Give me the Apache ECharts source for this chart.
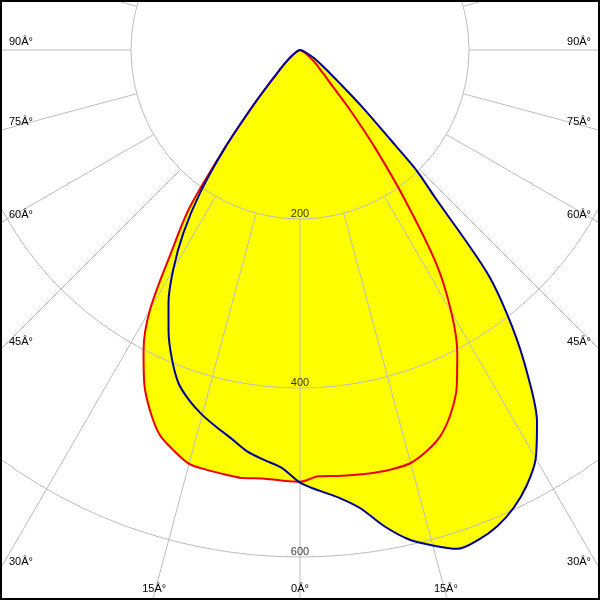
<!DOCTYPE html>
<html>
<head>
<meta charset="utf-8">
<script src="https://cdn.jsdelivr.net/npm/echarts@6/dist/echarts.min.js"></script>
<style>html,body{margin:0;padding:0;background:#fff}#c{width:600px;height:600px}</style>
</head>
<body>
<div id="c"></div>
<script>
// Angles in degrees from nadir (0 = straight down); negative = left half, positive = right half
const angles = [-90,-80,-70,-60,-55,-50,-47.5,-45,-44,-42.5,-40,-37.5,-35,-32.5,-30,-27.5,-25,-22.5,-20,-17.5,-15,-12.5,-10,-7.5,-5,-2.5,
  0,
  2.5,5,7.5,10,12.5,15,17.5,20,22.5,25,27.5,30,32.5,35,37.5,40,42.5,44,45,47.5,50,55,60,70,80,90];
// Red curve (cd)
const redValues = [0,0,2,6,11,20,27,36,41,55,88,146,228,283,355,401,436,463,485,497,507,509,510,511,509,510,
  511,
  505,506,507,508,508,506,498,486,466,439,403,358,301,217,146,90,52,43,37,29,23,12,6,2,0,0];
// Blue curve (cd)
const blueValues = [0,0,2,6,11,20,27,37,42,54,90,146,206,257,300,337,368,396,420,435,447,457,467,479,487,495,
  512,
  522,532,547,572,593,607,619,617,610,598,581,558,522,470,412,345,236,200,160,100,62,32,19,6,1,0];
// Radial scale
const radiusTicks = [200, 400, 600];
const radiusTickLabels = ['200', '400', '600'];
// Angle tick labels
const angleTicks = [0, 15, 30, 45, 60, 75, 90];
const angleTickLabels = ['0Â°', '15Â°', '30Â°', '45Â°', '60Â°', '75Â°', '90Â°'];
// Radial grid line directions
const gridAngles = [0,15,30,45,60,75,90,105,120,135,150,165,180,195,210,225,240,255,270,285,300,315,330,345];

const CX = 300, CY = 50, W = 600, H = 600;
const FONT = '"Liberation Sans", Arial, sans-serif';
const SMOOTH = 0.3;

function toAxisAngle(a) { return a < 0 ? a + 360 : a; }
function curve(vals) { return angles.map((a, i) => [vals[i], toAxisAngle(a)]); }

const series = [];
// yellow fills (under the grid)
[redValues, blueValues].forEach(v => {
  series.push({
    type: 'line', coordinateSystem: 'polar', data: curve(v), symbol: 'none', z: -1, smooth: SMOOTH,
    lineStyle: { width: 0, opacity: 0 }, areaStyle: { color: '#ffff00', opacity: 1 }, silent: true
  });
});
// radial grid lines from 200 outwards
gridAngles.forEach(a => {
  series.push({
    type: 'line', coordinateSystem: 'polar', data: [[200, a], [800, a]], symbol: 'none', z: 1,
    lineStyle: { color: '#bdbdbd', width: 1 }, silent: true
  });
});
// curves
series.push({ type: 'line', coordinateSystem: 'polar', data: curve(redValues), symbol: 'none', z: 3, smooth: SMOOTH,
  lineStyle: { color: '#ee0000', width: 2 }, silent: true });
series.push({ type: 'line', coordinateSystem: 'polar', data: curve(blueValues), symbol: 'none', z: 4, smooth: SMOOTH,
  lineStyle: { color: '#000099', width: 2 }, silent: true });
// radial value labels
series.push({
  type: 'scatter', coordinateSystem: 'polar', symbolSize: 0, z: 5,
  data: radiusTicks.map((r, i) => ({ value: [r, 0], name: radiusTickLabels[i] })),
  label: { show: true, position: 'top', distance: 0, formatter: p => p.name, color: '#000', fontSize: 11, fontFamily: FONT },
  silent: true
});

// angle labels placed where each direction leaves the frame
const graphics = [];
angleTicks.forEach((t, i) => {
  const sides = t === 0 ? [1] : [-1, 1];
  sides.forEach(s => {
    const a = t * Math.PI / 180;
    const sx = s * Math.sin(a), sy = Math.cos(a);
    const tx = Math.abs(sx) > 1e-9 ? (s < 0 ? CX : W - CX) / Math.abs(sx) : Infinity;
    const ty = sy > 1e-9 ? (H - CY) / sy : Infinity;
    let x, y, align;
    if (tx < ty) {
      y = CY + sy * tx - 8;
      x = s < 0 ? 9 : 591;
      align = s < 0 ? 'left' : 'right';
    } else {
      x = CX + sx * ty - (t === 0 ? 0 : s * 1.5);
      y = 589;
      align = 'center';
    }
    graphics.push({ type: 'text', x: x, y: y, z: 10, silent: true,
      style: { text: angleTickLabels[i], fill: '#000', fontSize: 11, fontFamily: FONT, align: align, verticalAlign: 'middle' } });
  });
});
graphics.push({ type: 'rect', z: 20, silent: true, shape: { x: 1, y: 1, width: 598, height: 598 },
  style: { fill: 'none', stroke: '#000', lineWidth: 2 } });

const chart = echarts.init(document.getElementById('c'), null, { renderer: 'canvas' });
chart.setOption({
  backgroundColor: '#ffffff',
  animation: false,
  polar: { center: [CX, CY], radius: 676 },
  radiusAxis: {
    type: 'value', min: 0, max: 800, interval: 200, z: 0,
    axisLine: { show: false }, axisTick: { show: false }, axisLabel: { show: false },
    splitLine: { show: true, lineStyle: { color: '#bdbdbd', width: 1 } }
  },
  angleAxis: {
    type: 'value', min: 0, max: 360, startAngle: -90, clockwise: false, z: 0,
    axisLine: { show: false }, axisTick: { show: false }, axisLabel: { show: false },
    splitLine: { show: false }
  },
  series: series,
  graphic: graphics
});
</script>
</body>
</html>
